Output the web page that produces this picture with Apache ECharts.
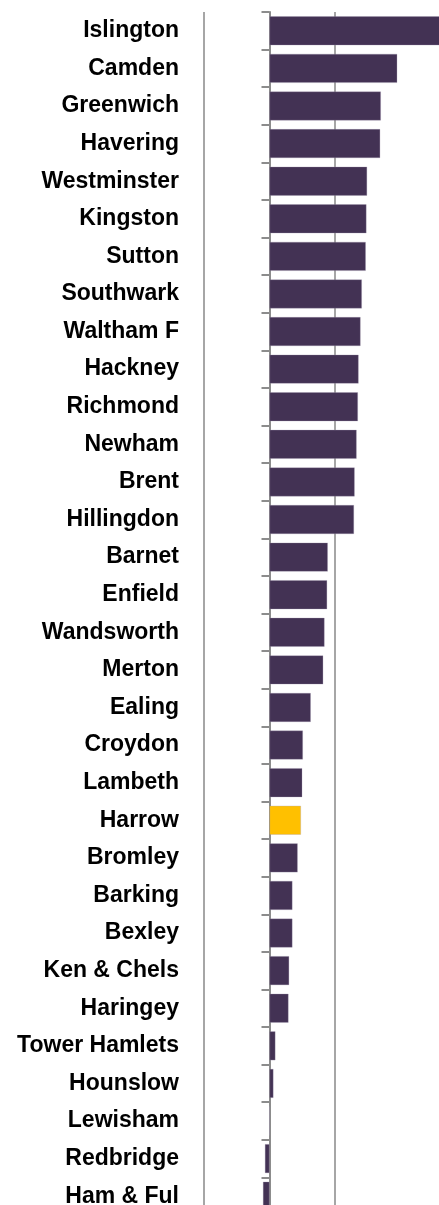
<!DOCTYPE html>
<html>
<head>
<meta charset="utf-8">
<script src="https://cdn.jsdelivr.net/npm/echarts@6/dist/echarts.min.js"></script>
<style>
  html, body { margin: 0; padding: 0; background: #fff; }
  #chart { width: 439px; height: 1205px; }
</style>
</head>
<body>
<div id="chart"></div>
<script>
// boroughs, top to bottom
const boroughs = [
  'Islington', 'Camden', 'Greenwich', 'Havering', 'Westminster', 'Kingston',
  'Sutton', 'Southwark', 'Waltham F', 'Hackney', 'Richmond', 'Newham',
  'Brent', 'Hillingdon', 'Barnet', 'Enfield', 'Wandsworth', 'Merton',
  'Ealing', 'Croydon', 'Lambeth', 'Harrow', 'Bromley', 'Barking',
  'Bexley', 'Ken & Chels', 'Haringey', 'Tower Hamlets', 'Hounslow',
  'Lewisham', 'Redbridge', 'Ham & Ful'
];

const values = [
  2.6, 1.95, 1.70, 1.69, 1.49, 1.48,
  1.47, 1.41, 1.39, 1.36, 1.35, 1.33,
  1.30, 1.29, 0.89, 0.88, 0.84, 0.82,
  0.63, 0.51, 0.50, 0.48, 0.43, 0.35,
  0.35, 0.30, 0.29, 0.09, 0.06,
  0, -0.07, -0.10
];

const highlight = 'Harrow';

const chart = echarts.init(document.getElementById('chart'));

const barColor = '#433254';
const highlightColor = '#ffc000';
const gridColor = '#a6a6a6';

chart.setOption({
  animation: false,
  backgroundColor: '#fff',
  grid: {
    left: 204, top: 12, width: 262, height: 1203,
    containLabel: false,
    outerBoundsMode: 'none'
  },
  xAxis: {
    type: 'value',
    min: -1,
    max: 3,
    interval: 2,
    axisLine: { show: false },
    axisTick: { show: false },
    axisLabel: { show: false },
    splitLine: { show: true, lineStyle: { color: gridColor, width: 2 } }
  },
  yAxis: {
    type: 'category',
    data: boroughs,
    inverse: true,
    axisLine: { show: true, onZero: true, lineStyle: { color: '#8c8c8c', width: 2 } },
    axisTick: { show: true, length: 8, lineStyle: { color: '#8c8c8c', width: 2 } },
    axisLabel: {
      // labels stay at the grid's left edge, not at the zero line
      margin: 25,
      color: '#000',
      fontFamily: 'Liberation Sans',
      fontWeight: 'bold',
      fontSize: 23
    },
    splitLine: { show: false }
  },
  series: [{
    type: 'bar',
    barCategoryGap: '23%',
    data: values.map((v, i) => ({
      value: v,
      itemStyle: { color: boroughs[i] === highlight ? highlightColor : barColor }
    })),
    itemStyle: { borderColor: 'rgba(160,150,175,0.6)', borderWidth: 0.5 }
  }]
});
</script>
</body>
</html>
